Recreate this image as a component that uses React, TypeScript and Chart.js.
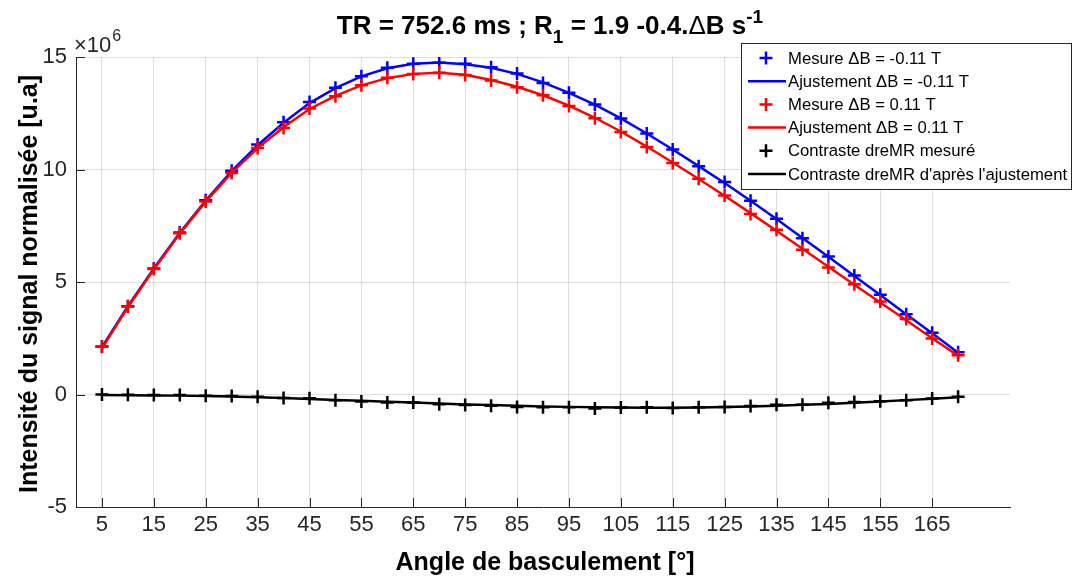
import React, { useEffect, useRef } from "react";
import { Chart, registerables } from "chart.js";

Chart.register(...registerables);

// Flip angles (degrees)
const angles = [5, 10, 15, 20, 25, 30, 35, 40, 45, 50, 55, 60, 65, 70, 75, 80, 85, 90, 95, 100, 105, 110, 115, 120, 125, 130, 135, 140, 145, 150, 155, 160, 165, 170];

// Values in units of 1e6 (u.a)
const mesureNeg = [2.13, 3.92, 5.6, 7.2, 8.63, 9.95, 11.11, 12.1, 13.0, 13.63, 14.15, 14.52, 14.7, 14.75, 14.7, 14.55, 14.27, 13.85, 13.41, 12.89, 12.27, 11.6, 10.89, 10.14, 9.44, 8.61, 7.81, 6.95, 6.13, 5.29, 4.43, 3.57, 2.75, 1.88];
const ajustNeg = [2.1, 3.92, 5.6, 7.19, 8.62, 9.93, 11.08, 12.08, 12.95, 13.62, 14.14, 14.5, 14.7, 14.75, 14.68, 14.52, 14.25, 13.87, 13.41, 12.88, 12.27, 11.6, 10.89, 10.15, 9.4, 8.61, 7.8, 6.96, 6.12, 5.27, 4.42, 3.57, 2.72, 1.86];
const mesurePos = [2.12, 3.91, 5.58, 7.17, 8.58, 9.85, 10.96, 11.85, 12.71, 13.26, 13.75, 14.08, 14.25, 14.3, 14.2, 13.96, 13.66, 13.3, 12.82, 12.28, 11.67, 11.0, 10.29, 9.59, 8.85, 8.02, 7.32, 6.43, 5.64, 4.9, 4.13, 3.36, 2.49, 1.75];
const ajustPos = [2.05, 3.88, 5.56, 7.15, 8.57, 9.85, 10.95, 11.88, 12.69, 13.27, 13.74, 14.06, 14.25, 14.3, 14.21, 13.98, 13.68, 13.3, 12.84, 12.3, 11.69, 11.02, 10.31, 9.58, 8.83, 8.06, 7.28, 6.48, 5.68, 4.88, 4.09, 3.3, 2.5, 1.72];
const contrasteMesure = [0, -0.01, -0.02, -0.02, -0.05, -0.07, -0.1, -0.15, -0.17, -0.25, -0.31, -0.35, -0.36, -0.43, -0.47, -0.5, -0.55, -0.57, -0.57, -0.62, -0.58, -0.57, -0.6, -0.57, -0.56, -0.51, -0.46, -0.45, -0.37, -0.33, -0.3, -0.25, -0.18, -0.1];
const contrasteAjust = [-0.02, -0.03, -0.04, -0.05, -0.07, -0.09, -0.12, -0.16, -0.2, -0.24, -0.28, -0.32, -0.36, -0.4, -0.44, -0.47, -0.5, -0.53, -0.55, -0.57, -0.58, -0.59, -0.59, -0.58, -0.56, -0.53, -0.5, -0.46, -0.42, -0.37, -0.31, -0.25, -0.19, -0.12];

const xTickValues = [5, 15, 25, 35, 45, 55, 65, 75, 85, 95, 105, 115, 125, 135, 145, 155, 165];
const yTickValues = [-5, 0, 5, 10, 15];

const legendLabels = [
  "Mesure \u0394B = -0.11 T",
  "Ajustement \u0394B = -0.11 T",
  "Mesure \u0394B = 0.11 T",
  "Ajustement \u0394B = 0.11 T",
  "Contraste dreMR mesur\u00e9",
  "Contraste dreMR d'apr\u00e8s l'ajustement",
];

const FONT = "'Liberation Sans', Arial, Helvetica, sans-serif";
const AXIS = "#262626";
const GRID = "rgba(38,38,38,0.15)";

const toPts = (ys: number[]) => angles.map((a, i) => ({ x: a, y: ys[i] }));

const decorPlugin = {
  id: "decor",
  afterDraw(chart: any) {
    const ctx = chart.ctx as CanvasRenderingContext2D;
    const area = chart.chartArea;
    const xs = chart.scales.x;
    const ys = chart.scales.y;
    ctx.save();

    // inward tick marks
    ctx.strokeStyle = AXIS;
    ctx.lineWidth = 1;
    ctx.beginPath();
    xTickValues.forEach((v) => {
      const px = Math.round(xs.getPixelForValue(v)) + 0.5;
      ctx.moveTo(px, area.bottom);
      ctx.lineTo(px, area.bottom - 9);
    });
    yTickValues.forEach((v) => {
      const py = Math.round(ys.getPixelForValue(v)) + 0.5;
      ctx.moveTo(area.left, py);
      ctx.lineTo(area.left + 9, py);
    });
    ctx.stroke();

    // exponent x10^6
    ctx.fillStyle = AXIS;
    ctx.textBaseline = "alphabetic";
    ctx.textAlign = "left";
    ctx.font = `22px ${FONT}`;
    ctx.fillText("\u00d710", 74, 52);
    const w10 = ctx.measureText("\u00d710").width;
    ctx.font = `16px ${FONT}`;
    ctx.fillText("6", 74 + w10 + 1, 41);

    // title with sub/superscripts
    const segs: [string, string, number][] = [
      ["TR = 752.6 ms ; R", `bold 26px ${FONT}`, 0],
      ["1", `bold 19px ${FONT}`, 9],
      [" = 1.9 -0.4.", `bold 26px ${FONT}`, 0],
      ["\u0394", `26px ${FONT}`, 0],
      ["B s", `bold 26px ${FONT}`, 0],
      ["-1", `bold 19px ${FONT}`, -11],
    ];
    let total = 0;
    segs.forEach(([t, f]) => {
      ctx.font = f;
      total += ctx.measureText(t).width;
    });
    let tx = 550 - total / 2;
    ctx.fillStyle = "#000";
    segs.forEach(([t, f, dy]) => {
      ctx.font = f;
      ctx.fillText(t, tx, 34 + dy);
      tx += ctx.measureText(t).width;
    });

    // axis titles
    ctx.fillStyle = "#000";
    ctx.font = `bold 25px ${FONT}`;
    ctx.textAlign = "center";
    ctx.fillText("Angle de basculement [\u00b0]", 545, 570);
    ctx.save();
    ctx.translate(37, 284);
    ctx.rotate(-Math.PI / 2);
    ctx.fillText("Intensit\u00e9 du signal normalis\u00e9e [u.a]", 0, 0);
    ctx.restore();

    // legend
    const bx = 741.5, by = 43.5, bw = 330, bh = 146;
    ctx.fillStyle = "#fff";
    ctx.fillRect(bx, by, bw, bh);
    ctx.strokeStyle = AXIS;
    ctx.lineWidth = 1;
    ctx.strokeRect(bx, by, bw, bh);
    const colors = ["#0000ff", "#0000ff", "#ff0000", "#ff0000", "#000000", "#000000"];
    ctx.font = `16.7px ${FONT}`;
    ctx.textAlign = "left";
    ctx.textBaseline = "middle";
    legendLabels.forEach((lab, i) => {
      const cy = 58 + i * 23.2;
      ctx.strokeStyle = colors[i];
      ctx.lineWidth = 2.5;
      ctx.beginPath();
      if (i % 2 === 0) {
        ctx.moveTo(766 - 6.5, cy);
        ctx.lineTo(766 + 6.5, cy);
        ctx.moveTo(766, cy - 6.5);
        ctx.lineTo(766, cy + 6.5);
      } else {
        ctx.moveTo(748, cy);
        ctx.lineTo(786, cy);
      }
      ctx.stroke();
      ctx.fillStyle = "#000";
      ctx.fillText(lab, 788, cy + 1);
    });

    ctx.restore();
  },
};

export default function App() {
  const ref = useRef<HTMLCanvasElement | null>(null);
  useEffect(() => {
    document.body.style.margin = "0";
    const canvas = ref.current;
    if (!canvas) return;
    const markerDs = (label: string, ys: number[], color: string, order: number) => ({
      label,
      data: toPts(ys),
      showLine: false,
      borderColor: color,
      backgroundColor: color,
      pointStyle: "cross",
      pointRadius: 6.5,
      pointBorderWidth: 2.5,
      order,
    });
    const lineDs = (label: string, ys: number[], color: string, order: number) => ({
      label,
      data: toPts(ys),
      showLine: true,
      borderColor: color,
      backgroundColor: color,
      borderWidth: 2.5,
      pointRadius: 0,
      tension: 0,
      order,
    });
    const chart = new Chart(canvas, {
      type: "scatter",
      data: {
        datasets: [
          markerDs(legendLabels[0], mesureNeg, "#0000ff", 6),
          lineDs(legendLabels[1], ajustNeg, "#0000ff", 5),
          markerDs(legendLabels[2], mesurePos, "#ff0000", 4),
          lineDs(legendLabels[3], ajustPos, "#ff0000", 3),
          markerDs(legendLabels[4], contrasteMesure, "#000000", 2),
          lineDs(legendLabels[5], contrasteAjust, "#000000", 1),
        ] as any,
      },
      options: {
        animation: false,
        responsive: false,
        maintainAspectRatio: false,
        layout: { padding: { left: 0, right: 65, top: 57, bottom: 0 } },
        plugins: {
          legend: { display: false },
          title: { display: false },
          tooltip: { enabled: false },
        },
        scales: {
          x: {
            type: "linear",
            min: 0,
            max: 180,
            afterBuildTicks: (s: any) => {
              s.ticks = xTickValues.map((v) => ({ value: v }));
            },
            afterFit: (s: any) => {
              s.height = 69;
            },
            grid: { color: GRID, drawTicks: false, lineWidth: 1 },
            border: { color: AXIS, width: 1 },
            ticks: {
              font: { family: FONT, size: 22 },
              color: AXIS,
              padding: 5,
              autoSkip: false,
              maxRotation: 0,
              callback: (v: any) => String(v),
            },
          },
          y: {
            type: "linear",
            min: -5,
            max: 15,
            afterBuildTicks: (s: any) => {
              s.ticks = yTickValues.map((v) => ({ value: v }));
            },
            afterFit: (s: any) => {
              s.width = 76;
            },
            grid: { color: GRID, drawTicks: false, lineWidth: 1 },
            border: { color: AXIS, width: 1 },
            ticks: {
              font: { family: FONT, size: 22 },
              color: AXIS,
              padding: 9,
              autoSkip: false,
              callback: (v: any) => String(v),
            },
          },
        },
      } as any,
      plugins: [decorPlugin],
    });
    return () => chart.destroy();
  }, []);
  return (
    <div style={{ position: "absolute", left: 0, top: 0, width: 1075, height: 576, background: "#fff" }}>
      <canvas ref={ref} width={1075} height={576} style={{ width: 1075, height: 576 }} />
    </div>
  );
}
